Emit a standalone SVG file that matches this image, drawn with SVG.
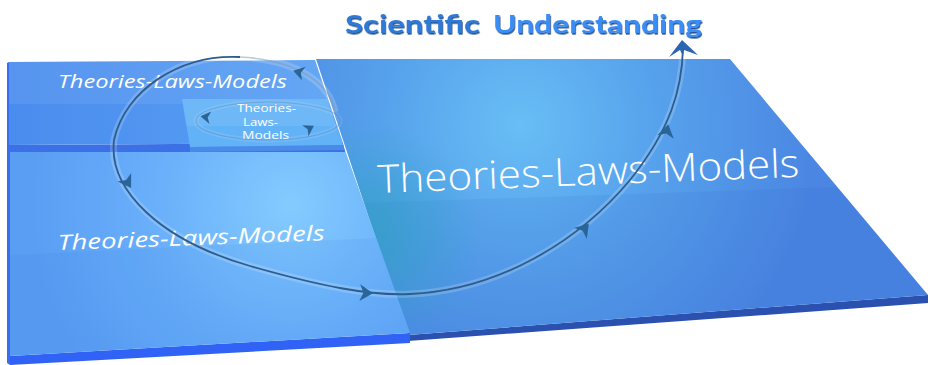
<svg xmlns="http://www.w3.org/2000/svg" width="930" height="365" viewBox="0 0 930 365">
<defs>
  <radialGradient id="bigGrad" gradientUnits="userSpaceOnUse" cx="520" cy="125" r="300">
    <stop offset="0" stop-color="#68bef5"/>
    <stop offset="0.45" stop-color="#57a2ec"/>
    <stop offset="1" stop-color="#4a86e2"/>
  </radialGradient>
  <radialGradient id="tealGrad" gradientUnits="userSpaceOnUse" cx="365" cy="235" r="115">
    <stop offset="0" stop-color="#25a6b8" stop-opacity="0.6"/>
    <stop offset="1" stop-color="#25a6b8" stop-opacity="0"/>
  </radialGradient>
  <radialGradient id="lowGrad" gradientUnits="userSpaceOnUse" cx="290" cy="205" r="260">
    <stop offset="0" stop-color="#84cbff"/>
    <stop offset="0.5" stop-color="#6ab0fa"/>
    <stop offset="1" stop-color="#5a9ef4"/>
  </radialGradient>
  <linearGradient id="upGrad" x1="0" y1="0" x2="1" y2="0">
    <stop offset="0" stop-color="#4a8cee"/>
    <stop offset="1" stop-color="#5aa2f4"/>
  </linearGradient>
  <filter id="shadow" x="-5%" y="-20%" width="110%" height="150%">
    <feDropShadow dx="0.8" dy="1.6" stdDeviation="0.6" flood-color="#16407f" flood-opacity="0.9"/>
  </filter>
  <path id="chev" d="M -6,-7 L 5,0 L -6,7 L -3,0 Z"/>
</defs>
<style>
  .lbl { fill: #ffffff; font-family: "Open Sans", "Liberation Sans", sans-serif; }
  .it { font-style: italic; }
  .sm { font-size: 10.5px; }
  .title { font-family: "Lato", "Open Sans", "Liberation Sans", sans-serif; font-weight: bold; font-size: 25px; filter: url(#shadow); }
  .loop { fill: none; stroke: #2c5d8e; stroke-width: 1.8; }
  .glow { fill: none; stroke: #ffffff; stroke-opacity: 0.18; stroke-width: 7; }
  .arr { fill: #2b6598; }
</style>
<rect width="930" height="365" fill="#ffffff"/>

<g id="title">
  <text class="title" x="345" y="33" fill="#2f7ad8" textLength="135" lengthAdjust="spacingAndGlyphs">Scientific</text>
  <text class="title" x="493" y="33" fill="#3b8df6" textLength="209" lengthAdjust="spacingAndGlyphs">Understanding</text>
</g>

<g id="plane-big">
  <polygon points="408,335 928,295 928,303 408,341" fill="#2a50b0"/>
  <polygon points="316,59 730,59 928,295 408,335" fill="url(#bigGrad)"/>
  <polygon points="364,203 837,187 928,295 408,335" fill="#2050c0" fill-opacity="0.08"/>
  <polygon points="316,59 730,59 928,295 408,335" fill="url(#tealGrad)"/>
  <text class="lbl" x="378" y="193" font-size="39" font-weight="300" textLength="422" lengthAdjust="spacingAndGlyphs" transform="rotate(-2.2 378 193)">Theories-Laws-Models</text>
</g>

<g id="plane-lower">
  <polygon points="10,356 410,333 410,343 10,365" fill="#2f62f5"/>
  <polygon points="7,152 10,152 10,365 7,363" fill="#3a6cf2"/>
  <polygon points="10,152 345,150 410,333 10,356" fill="url(#lowGrad)"/>
  <polygon points="10,255 376,238 410,333 10,356" fill="#2060d0" fill-opacity="0.07"/>
  <text class="lbl it" x="58" y="250" font-size="21" textLength="267" lengthAdjust="spacingAndGlyphs" transform="rotate(-2.1 58 250)">Theories-Laws-Models</text>
</g>

<g id="plane-upper">
  <polygon points="9,145 343,143 345,152 9,152" fill="#3b70e6"/>
  <polygon points="7,63 9,62 9,152 7,152" fill="#3a6cf0"/>
  <polygon points="9,62 315,60 343,143 9,145" fill="url(#upGrad)"/>
  <polygon points="9,62 315,60 329,104 9,104" fill="#ffffff" fill-opacity="0.07"/>
  <text class="lbl it" x="58" y="88" font-size="18" textLength="229" lengthAdjust="spacingAndGlyphs">Theories-Laws-Models</text>
</g>

<g id="plane-small">
  <polygon points="190,147 343,145 345,150 190,152" fill="#4a8ae8"/>
  <polygon points="182,99 327,99 343,145 190,147" fill="#62b2f8"/>
  <polygon points="182,99 327,99 336,126 186,126" fill="#ffffff" fill-opacity="0.08"/>
  <text class="lbl sm" x="237" y="112" textLength="59" lengthAdjust="spacingAndGlyphs">Theories-</text>
  <text class="lbl sm" x="243" y="125.5" textLength="35" lengthAdjust="spacingAndGlyphs">Laws-</text>
  <text class="lbl sm" x="242" y="139" textLength="47" lengthAdjust="spacingAndGlyphs">Models</text>
</g>

<g id="connectors">
  <ellipse cx="268" cy="121" rx="72" ry="19" fill="none" stroke="#ffffff" stroke-opacity="0.1" stroke-width="5"/>
  <ellipse cx="268" cy="121" rx="72" ry="19" fill="none" stroke="#3a6a98" stroke-opacity="0.3" stroke-width="1.1"/>
  <path class="glow" d="M 335,112 C 330,85 300,60 240,57 C 180,54 125,90 114,140 C 108,190 160,240 250,266 C 320,286 370,296 410,294 C 500,290 580,240 630,180 C 670,130 682,90 683,48"/>
  <path d="M 335,112 C 330,85 300,60 240,57" fill="none" stroke="#7f96ad" stroke-opacity="0.5" stroke-width="1.5"/>
  <path class="loop" d="M 240,57 C 180,54 125,90 114,140 C 108,190 160,240 250,266 C 320,286 370,296 410,294 C 500,290 580,240 630,180 C 670,130 682,90 683,48"/>
  <use href="#chev" class="arr" transform="translate(298,72) rotate(195)"/>
  <use href="#chev" class="arr" transform="translate(205,117) rotate(188) scale(0.9)"/>
  <use href="#chev" class="arr" transform="translate(310,128) rotate(-30) scale(0.9)"/>
  <use href="#chev" class="arr" transform="translate(128,183) rotate(58) scale(1.15)"/>
  <use href="#chev" class="arr" transform="translate(367,293) rotate(3) scale(1.2)"/>
  <use href="#chev" class="arr" transform="translate(585,228) rotate(-50) scale(1.2)"/>
  <use href="#chev" class="arr" transform="translate(667,130) rotate(-78) scale(1.2)"/>
  <path d="M 682,40 L 698,55 L 684,50 L 683,56 L 680,50 L 669,57 Z" fill="#2a66b0"/>
</g>
</svg>
